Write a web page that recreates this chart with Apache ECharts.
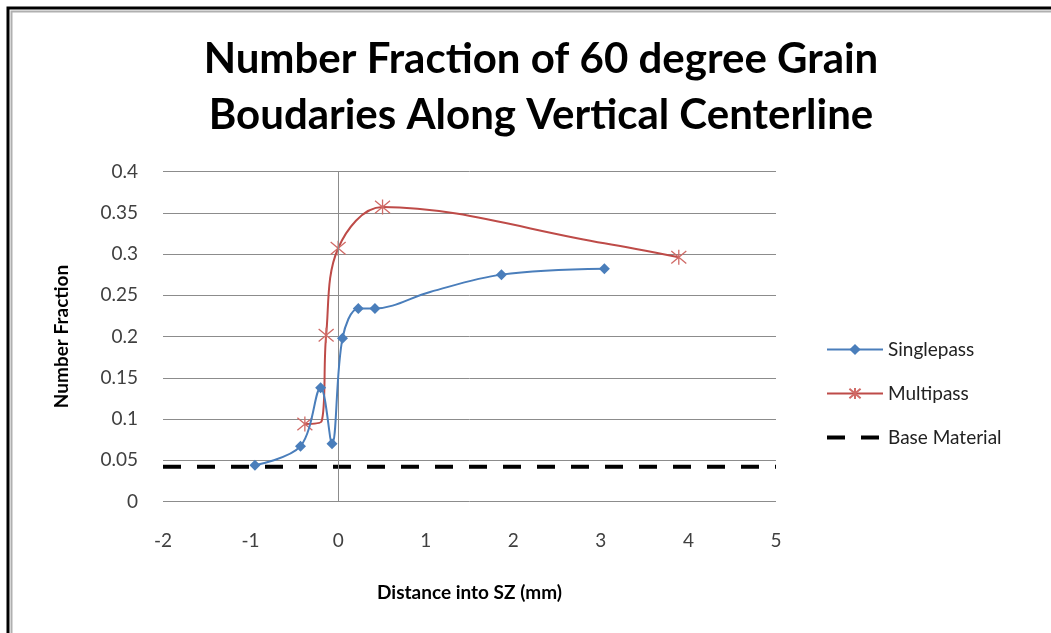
<!DOCTYPE html>
<html>
<head>
<meta charset="utf-8">
<script src="https://cdn.jsdelivr.net/npm/echarts@6/dist/echarts.min.js"></script>
<style>html,body{margin:0;padding:0;background:#fff}#c{width:1051px;height:633px}</style>
</head>
<body>
<div id="c"></div>
<script>
const singlepassX = [-0.95, -0.43, -0.20, -0.07, 0.05, 0.23, 0.42, 1.05, 1.865, 3.04];
const singlepassY = [0.044, 0.067, 0.138, 0.070, 0.198, 0.234, 0.234, 0.254, 0.275, 0.282];
const singlepassHidden = [false, false, false, false, false, false, false, true, false, false];
const multipassX = [-0.38, -0.19, -0.137, 0.0, 0.507, 3.04, 3.89];
const multipassY = [0.094, 0.097, 0.2015, 0.307, 0.357, 0.313, 0.296];
const multipassHidden = [false, true, false, false, false, true, false];
const baseMaterialY = 0.042;
const xRange = [-2, 5];
const yRange = [0, 0.4];
const seriesNames = ['Singlepass', 'Multipass', 'Base Material'];
const titleText = 'Number Fraction of 60 degree Grain\nBoudaries Along Vertical Centerline';
const xName = 'Distance into SZ (mm)';
const yName = 'Number Fraction';

const FONT = 'Lato';
function pts(xs, ys, hidden) {
  return xs.map((x, i) => hidden[i] ? { value: [x, ys[i]], symbol: 'none' } : [x, ys[i]]);
}
const starPath = 'path://M0,0 L10,10 M10,0 L0,10 M5,-1 L5,11';

const chart = echarts.init(document.getElementById('c'), null, { renderer: 'canvas' });
chart.setOption({
  backgroundColor: '#fff',
  animation: false,
  title: {
    text: titleText,
    left: 536, textAlign: 'center', top: 26,
    textStyle: { fontFamily: FONT, fontWeight: 'bold', fontSize: 42, lineHeight: 56, color: '#000' }
  },
  graphic: [
    { type: 'rect', shape: { x: 8, y: 8, width: 1100, height: 700 }, style: { fill: 'none', stroke: '#000', lineWidth: 3 }, silent: true },
    { type: 'rect', shape: { x: 11.5, y: 11.5, width: 1100, height: 700 }, style: { fill: 'none', stroke: '#b0b0b0', lineWidth: 2 }, silent: true }
  ],
  legend: {
    orient: 'vertical', left: 820, top: 335, itemGap: 25, itemWidth: 56, itemHeight: 14,
    data: [
      { name: seriesNames[0] },
      { name: seriesNames[1] },
      { name: seriesNames[2], itemStyle: { opacity: 0 }, lineStyle: { width: 4 } }
    ],
    textStyle: { fontFamily: FONT, fontSize: 19, color: '#222' }
  },
  grid: { left: 163, right: 275, top: 171.5, bottom: 131.5, containLabel: false },
  xAxis: {
    type: 'value', min: xRange[0], max: xRange[1], interval: 1,
    name: xName, nameLocation: 'middle', nameGap: 82,
    nameTextStyle: { fontFamily: FONT, fontWeight: 'bold', fontSize: 19, color: '#000' },
    axisLine: { show: false },
    axisTick: { show: false },
    splitLine: { show: false },
    axisLabel: { margin: 30, fontFamily: FONT, fontSize: 19, color: '#404040' }
  },
  yAxis: {
    type: 'value', min: yRange[0], max: yRange[1], interval: 0.05,
    name: yName, nameLocation: 'middle', nameGap: 92,
    nameTextStyle: { fontFamily: FONT, fontWeight: 'bold', fontSize: 19, color: '#000' },
    axisLine: { show: false },
    axisTick: { show: false },
    splitLine: { show: true, lineStyle: { color: '#8c8c8c', width: 1 } },
    axisLabel: { margin: 25, fontFamily: FONT, fontSize: 19, color: '#404040' }
  },
  series: [
    {
      name: seriesNames[0], type: 'line', smooth: 0.35, z: 5,
      data: pts(singlepassX, singlepassY, singlepassHidden),
      symbol: 'diamond', symbolSize: 11, showSymbol: true,
      lineStyle: { color: '#4a7ebb', width: 2 },
      itemStyle: { color: '#4a7ebb' },
      markLine: {
        silent: true, symbol: 'none', label: { show: false },
        lineStyle: { color: '#8c8c8c', width: 1, type: 'solid' },
        data: [{ xAxis: 0 }]
      }
    },
    {
      name: seriesNames[1], type: 'line', smooth: 0.35, z: 4,
      data: pts(multipassX, multipassY, multipassHidden),
      symbol: starPath, symbolSize: 15, showSymbol: true,
      lineStyle: { color: '#be4b48', width: 2 },
      itemStyle: { color: 'rgba(0,0,0,0)', borderColor: '#d06a66', borderWidth: 1.3 }
    },
    {
      name: seriesNames[2], type: 'line', z: 3,
      data: [[xRange[0], baseMaterialY], [xRange[1], baseMaterialY]],
      symbol: 'none', showSymbol: false,
      lineStyle: { color: '#000', width: 4, type: [18, 16] },
      itemStyle: { color: '#000' }
    }
  ]
});
</script>
</body>
</html>
